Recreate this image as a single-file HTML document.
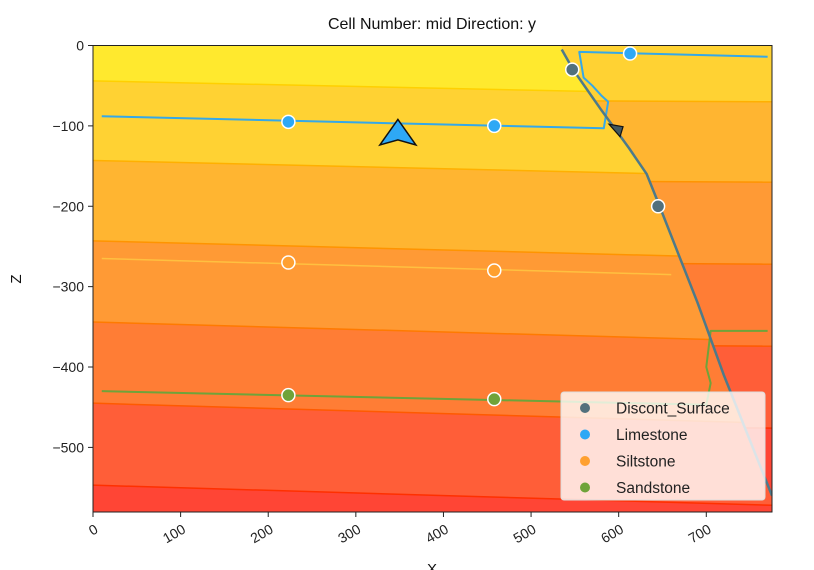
<!DOCTYPE html>
<html><head><meta charset="utf-8"><style>
body{margin:0;background:#fff;}
svg{display:block;font-family:"Liberation Sans","DejaVu Sans",sans-serif;}
</style></head><body>
<svg id="chart" width="814" height="570" viewBox="0 0 814 570" xmlns="http://www.w3.org/2000/svg">
<defs><clipPath id="plotclip"><rect x="93" y="45" width="679" height="467"/></clipPath>
<clipPath id="rightclip"><polygon id="rightpoly"/></clipPath></defs>
<g id="plot" clip-path="url(#plotclip)"></g>
<g id="axes"></g>
</svg>
<script>
// data (model units)
const layerColors=["#FFE92E","#FFD233","#FFB531","#FF9A35","#FF7D35","#FF5E38","#FF4535"];
const lineColors=["#FFD000","#FFB000","#FF9400","#FF7A00","#FF5A00","#FF3000"];
// left block boundaries [z at x=0, z at x=775]
const leftBounds=[[-44,-62],[-143,-163],[-243,-265],[-344,-368],[-445,-470],[-547,-572]];
// right block boundaries
const rightBounds=[[-66,-70],[-166,-170],[-268,-272],[-370,-374],[-472,-476]];
const faultX=[535,548,580,612,632,646,690,720,775];
const faultZ=[-5,-30,-80,-128,-160,-198,-320,-410,-560];
const discX=[547,645], discZ=[-30,-200];
const limeX=[223,458,613], limeZ=[-95,-100,-10];
const siltX=[223,458], siltZ=[-270,-280];
const sandX=[223,458], sandZ=[-435,-440];
const limeLineX=[10,583,588,580,570,560,555,770], limeLineZ=[-88,-103,-70,-62,-50,-40,-8,-14];
const siltLineX=[10,660], siltLineZ=[-265,-285];
const sandLineX=[10,700,705,700,705,770], sandLineZ=[-430,-447,-420,-400,-355,-355];
const xTicks=[0,100,200,300,400,500,600,700];
const yTicks=[0,-100,-200,-300,-400,-500];
const X0=0,X1=775,Z0=0,Z1=-581;
function sx(x){return 93+(x-X0)/(X1-X0)*679;}
function sy(z){return 45.5+(z-Z0)/(Z1-Z0)*467;}
const NS="http://www.w3.org/2000/svg";
function mk(tag,attrs,parent){const e=document.createElementNS(NS,tag);for(const k in attrs)e.setAttribute(k,attrs[k]);parent.appendChild(e);return e;}
const plot=document.getElementById('plot'), axes=document.getElementById('axes');
function band(bounds,i,col,parent){
  const top=i===0?[Z0+5,Z0+5]:bounds[i-1];
  const bot=i<bounds.length?bounds[i]:[Z1-10,Z1-10];
  const pts=[[X0,top[0]],[X1,top[1]],[X1,bot[1]],[X0,bot[0]]].map(p=>sx(p[0])+','+sy(p[1])).join(' ');
  const p=mk('polygon',{points:pts,fill:col},parent);
  return p;
}
for(let i=0;i<=leftBounds.length;i++){
  const p=band(leftBounds,i,layerColors[i],plot);
  
  
}
for(let i=0;i<leftBounds.length;i++){
  const b=leftBounds[i];
  const l=mk('line',{x1:sx(X0),y1:sy(b[0]),x2:sx(X1),y2:sy(b[1]),stroke:lineColors[i],'stroke-width':1.5},plot);
  
  
}
// right block
let rp=faultX.map((x,i)=>sx(x)+','+sy(faultZ[i]));
rp.unshift(sx(faultX[0])+','+sy(20));
rp.push(sx(X1+20)+','+sy(faultZ[faultZ.length-1]));rp.push(sx(X1+20)+','+sy(20));
document.getElementById('rightpoly').setAttribute('points',rp.join(' '));
const rg=mk('g',{'clip-path':'url(#rightclip)'},plot);


for(let i=0;i<=rightBounds.length;i++){
  const p=band(rightBounds,i,layerColors[i+1],rg);
  
  
}
for(let i=0;i<rightBounds.length;i++){
  const b=rightBounds[i];
  const l=mk('line',{x1:sx(X0),y1:sy(b[0]),x2:sx(X1),y2:sy(b[1]),stroke:lineColors[i+1],'stroke-width':1.5},rg);
  
  
}
function poly(xs,zs,attrs,name){
  const a=Object.assign({points:xs.map((x,i)=>sx(x)+','+sy(zs[i])).join(' '),fill:'none','stroke-linejoin':'round'},attrs);
  const e=mk('polyline',a,plot);
  
  
}
poly(siltLineX,siltLineZ,{stroke:'#FFC040','stroke-width':1.5},'siltstone-line');
poly(limeLineX,limeLineZ,{stroke:'#35A8E8','stroke-width':2},'limestone-line');
poly(sandLineX,sandLineZ,{stroke:'#6FA33A','stroke-width':2},'sandstone-line');
poly(faultX,faultZ,{stroke:'#4E7A8A','stroke-width':2.5},'fault-line');
function pts(xs,zs,col,name){
  xs.forEach((x,i)=>{const c=mk('circle',{cx:sx(x),cy:sy(zs[i]),r:6.5,fill:col,stroke:'#fff','stroke-width':1.5},plot);
  
  });
}
pts(discX,discZ,'#52707C','discont-surface');
pts(limeX,limeZ,'#2EA8F5','limestone');
pts(siltX,siltZ,'#FFA030','siltstone');
pts(sandX,sandZ,'#6FA33A','sandstone');
// orientations
const ot=mk('polygon',{points:`${sx(348)},${sy(-92)} ${sx(348)+18},${sy(-110)+11} ${sx(348)},${sy(-110)+6} ${sx(348)-18},${sy(-110)+11}`,fill:'#2EA8F5',stroke:'#111','stroke-width':1.5},plot);


const o2=mk('polygon',{points:`${sx(597)-7},${sy(-98)} ${sx(597)+7},${sy(-101)} ${sx(597)+4},${sy(-101)+10}`,fill:'#41575f',stroke:'#111','stroke-width':1.2},plot);


// axes frame
const fr=mk('rect',{x:93,y:45.5,width:679,height:466.5,fill:'none',stroke:'#222','stroke-width':1},axes);


xTicks.forEach(t=>{
  const x=sx(t);
  mk('line',{x1:x,y1:512,x2:x,y2:517,stroke:'#222'},axes);
  const tx=mk('text',{x:x+6,y:532,'font-size':14,fill:'#222','text-anchor':'end',transform:`rotate(-30 ${x+6} 532)`},axes);
  tx.textContent=t;
  
  
});
yTicks.forEach(t=>{
  const y=sy(t);
  mk('line',{x1:88,y1:y,x2:93,y2:y,stroke:'#222'},axes);
  const tx=mk('text',{x:84,y:y+5,'font-size':14,fill:'#222','text-anchor':'end'},axes);
  tx.textContent=t===0?'0':'\u2212'+Math.abs(t);
  
  
});
const ttl=mk('text',{x:432,y:29,'font-size':16,fill:'#111','text-anchor':'middle'},axes);
ttl.textContent='Cell Number: mid Direction: y';


const xl=mk('text',{x:432,y:574,'font-size':15,fill:'#111','text-anchor':'middle'},axes);
xl.textContent='X';


const yl=mk('text',{x:21,y:279,'font-size':15,fill:'#111','text-anchor':'middle',transform:'rotate(-90 21 279)'},axes);
yl.textContent='Z';


// legend
const lg=mk('g',{},axes);


mk('rect',{x:561,y:392,width:204,height:108,rx:3,fill:'#fff','fill-opacity':0.8,stroke:'#ddd'},lg);
const legNames=['Discont_Surface','Limestone','Siltstone','Sandstone'];
const legCols=['#52707C','#2EA8F5','#FFA030','#6FA33A'];
legNames.forEach((n,i)=>{
  const y=408+i*26.5;
  const c=mk('circle',{cx:585,cy:y,r:5,fill:legCols[i]},lg);
  
  
  const t=mk('text',{x:616,y:y+5.5,'font-size':15.5,fill:'#222'},lg);
  t.textContent=n;
  
  
});
</script>
</body></html>
